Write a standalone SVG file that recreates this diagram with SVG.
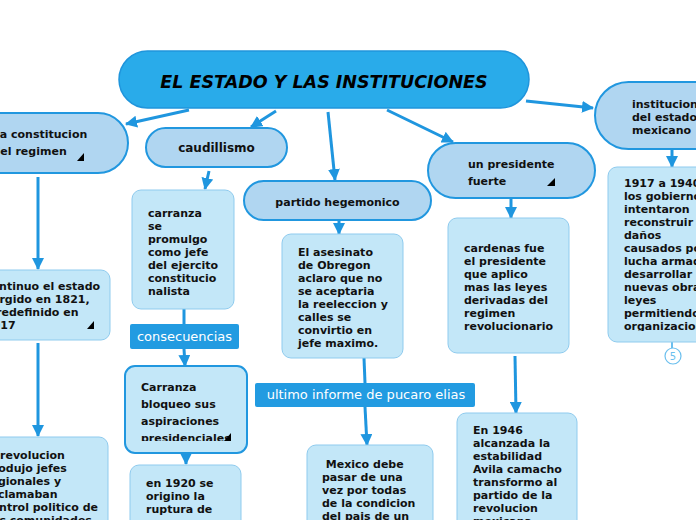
<svg xmlns="http://www.w3.org/2000/svg" width="696" height="520" viewBox="0 0 696 520">
<style>
.main{fill:#29abea;stroke:#1f95dc;stroke-width:1.5}
.node{fill:#b0d6f1;stroke:#2197df;stroke-width:2}
.box{fill:#c3e7f8;stroke:#8fcbee;stroke-width:1}
.sel{fill:#c3e7f8;stroke:#2197df;stroke-width:2}
.lab{fill:#229be1}
.t{font-family:"DejaVu Sans",Verdana,sans-serif;font-weight:bold;font-size:11px;fill:#111}
.tl{font-family:"DejaVu Sans",Verdana,sans-serif;font-size:13px;fill:#fff}
.title{font-family:"DejaVu Sans",Verdana,sans-serif;font-weight:bold;font-style:italic;font-size:17.5px;fill:#000}
.c{stroke:#1f96df;stroke-width:3;fill:none}
.ind{fill:#000}
</style>
<defs>
<marker id="ah" markerUnits="userSpaceOnUse" markerWidth="12" markerHeight="12" refX="11" refY="6" orient="auto">
<path d="M0,0 L12,6 L0,12 z" fill="#1f96df"/>
</marker>
<clipPath id="cb"><rect x="125" y="366" width="122" height="75"/></clipPath>
<clipPath id="c17"><rect x="608" y="167" width="100" height="164"/></clipPath>
</defs>

<g id="connectors">
<line class="c" x1="189" y1="110" x2="126" y2="124" marker-end="url(#ah)"/>
<line class="c" x1="276" y1="111" x2="251" y2="127" marker-end="url(#ah)"/>
<line class="c" x1="328" y1="112" x2="335" y2="180" marker-end="url(#ah)"/>
<line class="c" x1="387" y1="110" x2="453" y2="142" marker-end="url(#ah)"/>
<line class="c" x1="526" y1="101" x2="593" y2="108" marker-end="url(#ah)"/>
<line class="c" x1="38" y1="177" x2="38" y2="269" marker-end="url(#ah)"/>
<line class="c" x1="38" y1="343" x2="38" y2="436" marker-end="url(#ah)"/>
<line class="c" x1="209" y1="171" x2="205" y2="189" marker-end="url(#ah)"/>
<line class="c" x1="184" y1="309" x2="184" y2="324"/>
<line class="c" x1="184" y1="349" x2="185" y2="366" marker-end="url(#ah)"/>
<line class="c" x1="186" y1="453" x2="186" y2="464" marker-end="url(#ah)"/>
<line class="c" x1="339" y1="221" x2="339" y2="234" marker-end="url(#ah)"/>
<line class="c" x1="364" y1="358" x2="365" y2="383"/>
<line class="c" x1="365" y1="407" x2="367" y2="445" marker-end="url(#ah)"/>
<line class="c" x1="511" y1="199" x2="511" y2="218" marker-end="url(#ah)"/>
<line class="c" x1="515" y1="356" x2="516" y2="413" marker-end="url(#ah)"/>
<line class="c" x1="672" y1="150" x2="672" y2="167" marker-end="url(#ah)"/>
<line x1="672" y1="342" x2="672" y2="348" stroke="#6bbfee" stroke-width="2"/>
</g>

<g id="main">
<rect class="main" x="119" y="51" width="410" height="57" rx="28.5"/>
<text class="title" x="324" y="88" text-anchor="middle">EL ESTADO Y LAS INSTITUCIONES</text>
</g>

<g id="constitucion">
<rect class="node" x="-60" y="113" width="188" height="60" rx="30"/>
<text class="t" x="-4" y="138">la constitucion</text>
<text class="t" x="-7.5" y="155">del regimen</text>
<polygon class="ind" points="77,161 84,161 84,153"/>
</g>

<g id="caudillismo">
<rect class="node" x="146" y="128" width="141" height="39" rx="19.5"/>
<text class="t" x="216.5" y="152" text-anchor="middle" style="font-size:12px">caudillismo</text>
</g>

<g id="partido">
<rect class="node" x="244" y="181" width="187" height="39" rx="19.5"/>
<text class="t" x="337.5" y="206" text-anchor="middle">partido hegemonico</text>
</g>

<g id="presidente">
<rect class="node" x="428" y="143" width="167" height="55" rx="27.5"/>
<text class="t" x="468" y="168">un presidente</text>
<text class="t" x="468" y="185">fuerte</text>
<polygon class="ind" points="547,186 555,186 555,178"/>
</g>

<g id="instituciones">
<rect class="node" x="595" y="82" width="170" height="67" rx="33.5"/>
<text class="t" x="632" y="108">instituciones</text>
<text class="t" x="632" y="121">del estado</text>
<text class="t" x="632" y="134">mexicano</text>
</g>

<g id="continuo">
<rect class="box" x="-20" y="270" width="130" height="70" rx="9"/>
<text class="t" x="-15" y="290">continuo el estado</text>
<text class="t" x="-15" y="303">surgido en 1821,</text>
<text class="t" x="-15" y="316">y redefinido en</text>
<text class="t" x="-15" y="329">1917</text>
<polygon class="ind" points="87,329 94,329 94,321"/>
</g>

<g id="revolucion">
<rect class="box" x="-20" y="437" width="128" height="100" rx="9"/>
<text class="t" x="-15" y="459">la revolucion</text>
<text class="t" x="-15" y="472">produjo jefes</text>
<text class="t" x="-15" y="485">regionales y</text>
<text class="t" x="-15" y="498">reclamaban</text>
<text class="t" x="-15" y="511">control politico de</text>
<text class="t" x="-15" y="524">sus comunidades</text>
</g>

<g id="carranza">
<rect class="box" x="132" y="190" width="102" height="119" rx="9"/>
<text class="t" x="148" y="217">carranza</text>
<text class="t" x="148" y="230">se</text>
<text class="t" x="148" y="243">promulgo</text>
<text class="t" x="148" y="256">como jefe</text>
<text class="t" x="148" y="269">del ejercito</text>
<text class="t" x="148" y="282">constitucio</text>
<text class="t" x="148" y="295">nalista</text>
</g>

<g id="consecuencias">
<rect class="lab" x="130" y="324" width="109" height="25" rx="2"/>
<text class="tl" x="184.5" y="341" text-anchor="middle">consecuencias</text>
</g>

<g id="bloqueo">
<rect class="sel" x="125" y="366" width="122" height="87" rx="10"/>
<g clip-path="url(#cb)">
<text class="t" x="141" y="391">Carranza</text>
<text class="t" x="141" y="408">bloqueo sus</text>
<text class="t" x="141" y="425">aspiraciones</text>
<text class="t" x="141" y="442">presidenciales</text>
</g>
<polygon class="ind" points="224,441 231,441 231,433"/>
</g>

<g id="ruptura">
<rect class="box" x="130" y="465" width="111" height="70" rx="9"/>
<text class="t" x="146" y="487">en 1920 se</text>
<text class="t" x="146" y="500">origino la</text>
<text class="t" x="146" y="513">ruptura de</text>
</g>

<g id="asesinato">
<rect class="box" x="282" y="234" width="121" height="124" rx="9"/>
<text class="t" x="298" y="256">El asesinato</text>
<text class="t" x="298" y="269">de Obregon</text>
<text class="t" x="298" y="282">aclaro que no</text>
<text class="t" x="298" y="295">se aceptaria</text>
<text class="t" x="298" y="308">la reeleccion y</text>
<text class="t" x="298" y="321">calles se</text>
<text class="t" x="298" y="334">convirtio en</text>
<text class="t" x="298" y="347">jefe maximo.</text>
</g>

<g id="informe">
<rect class="lab" x="255" y="383" width="220" height="24" rx="2"/>
<text class="tl" x="366" y="399" text-anchor="middle">ultimo informe de pucaro elias</text>
</g>

<g id="mexico">
<rect class="box" x="307" y="445" width="126" height="90" rx="9"/>
<text class="t" x="322" y="468" xml:space="preserve"> Mexico debe</text>
<text class="t" x="322" y="481">pasar de una</text>
<text class="t" x="322" y="494">vez por todas</text>
<text class="t" x="322" y="507">de la condicion</text>
<text class="t" x="322" y="520">del pais de un</text>
</g>

<g id="cardenas">
<rect class="box" x="448" y="218" width="121" height="135" rx="9"/>
<text class="t" x="464" y="252">cardenas fue</text>
<text class="t" x="464" y="265">el presidente</text>
<text class="t" x="464" y="278">que aplico</text>
<text class="t" x="464" y="291">mas las leyes</text>
<text class="t" x="464" y="304">derivadas del</text>
<text class="t" x="464" y="317">regimen</text>
<text class="t" x="464" y="330">revolucionario</text>
</g>

<g id="avila">
<rect class="box" x="457" y="413" width="120" height="120" rx="9"/>
<text class="t" x="473" y="434">En 1946</text>
<text class="t" x="473" y="447">alcanzada la</text>
<text class="t" x="473" y="460">estabilidad</text>
<text class="t" x="473" y="473">Avila camacho</text>
<text class="t" x="473" y="486">transformo al</text>
<text class="t" x="473" y="499">partido de la</text>
<text class="t" x="473" y="512">revolucion</text>
<text class="t" x="473" y="525">mexicana</text>
</g>

<g id="gobiernos">
<rect class="box" x="608" y="167" width="110" height="175" rx="9"/>
<g clip-path="url(#c17)">
<text class="t" x="624" y="187">1917 a 1940</text>
<text class="t" x="624" y="200">los gobiernos</text>
<text class="t" x="624" y="213">intentaron</text>
<text class="t" x="624" y="226">reconstruir</text>
<text class="t" x="624" y="239">daños</text>
<text class="t" x="624" y="252">causados por</text>
<text class="t" x="624" y="265">lucha armada</text>
<text class="t" x="624" y="278">desarrollar</text>
<text class="t" x="624" y="291">nuevas obras</text>
<text class="t" x="624" y="304">leyes</text>
<text class="t" x="624" y="317">permitiendo</text>
<text class="t" x="624" y="330">organizacion</text>
</g>
<circle cx="673" cy="356" r="8" fill="#fff" stroke="#6bbfee" stroke-width="1.2"/>
<text x="673" y="360" text-anchor="middle" style="font-family:'DejaVu Sans',sans-serif;font-size:10px;fill:#6bbfee">5</text>
</g>
</svg>
